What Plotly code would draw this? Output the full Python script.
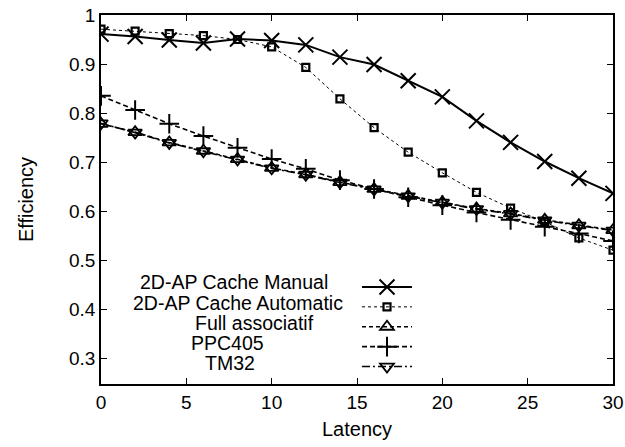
import plotly.graph_objects as go

latency = [0, 2, 4, 6, 8, 10, 12, 14, 16, 18, 20, 22, 24, 26, 28, 30]
manual = [0.961, 0.956, 0.949, 0.943, 0.951, 0.948, 0.939, 0.914, 0.899, 0.866, 0.833, 0.784, 0.740, 0.701, 0.667, 0.636]
automatic = [0.971, 0.967, 0.962, 0.958, 0.950, 0.935, 0.893, 0.829, 0.770, 0.720, 0.678, 0.638, 0.606, 0.578, 0.545, 0.520]
full_assoc = [0.778, 0.761, 0.740, 0.723, 0.706, 0.688, 0.675, 0.659, 0.645, 0.631, 0.618, 0.605, 0.595, 0.582, 0.571, 0.561]
ppc405 = [0.835, 0.806, 0.778, 0.753, 0.729, 0.706, 0.686, 0.663, 0.645, 0.628, 0.612, 0.597, 0.582, 0.568, 0.554, 0.539]
tm32 = [0.779, 0.760, 0.739, 0.722, 0.705, 0.687, 0.674, 0.658, 0.644, 0.630, 0.617, 0.604, 0.594, 0.581, 0.570, 0.560]
names = ["2D-AP Cache Manual", "2D-AP Cache Automatic", "Full associatif", "PPC405", "TM32"]
x_ticks = [0, 5, 10, 15, 20, 25, 30]
y_ticks = [0.3, 0.4, 0.5, 0.6, 0.7, 0.8, 0.9, 1.0]
y_tick_text = ["0.3", "0.4", "0.5", "0.6", "0.7", "0.8", "0.9", "1"]

series = [manual, automatic, full_assoc, ppc405, tm32]
styles = [
    dict(dash="solid", width=2.0, symbol="x-thin-open", size=15, mlw=2.0),
    dict(dash="dot", width=1.0, symbol="square-open", size=7, mlw=2.2),
    dict(dash="4px,3px", width=1.6, symbol="triangle-up-open", size=12, mlw=1.8),
    dict(dash="5px,3px", width=1.6, symbol="cross-thin-open", size=14, mlw=2.0),
    dict(dash="8px,3px,2px,3px", width=1.6, symbol="triangle-down-open", size=12, mlw=1.8),
]

fig = go.Figure()
for ys, st in zip(series, styles):
    fig.add_trace(go.Scatter(
        x=latency, y=ys, mode="lines+markers", name="",
        line=dict(color="black", width=st["width"], dash=st["dash"]),
        marker=dict(symbol=st["symbol"], size=st["size"], color="black",
                    line=dict(color="black", width=st["mlw"])),
    ))

font_family = "Liberation Sans, Arial, sans-serif"
W, H = 625, 447
ml, mr, mt, mb = 101, 12, 15, 63
pw = W - ml - mr
ph = H - mt - mb

# legend label placement (pixels): left edge and vertical centre of each label
label_left_px = [137.5, 131, 192.5, 189, 202.5]
label_mid_px = [282, 302.5, 322.5, 342.5, 362.5]
for name, lx, ry in zip(names, label_left_px, label_mid_px):
    fig.add_annotation(
        text=name, xref="paper", yref="paper",
        x=(lx - ml) / pw, y=(H - mb - ry) / ph,
        xanchor="left", yanchor="middle", showarrow=False,
        font=dict(family=font_family, size=19.5, color="black"),
    )

axis_common = dict(
    showgrid=False, zeroline=False, showline=True, linecolor="black", linewidth=1.5,
    mirror="allticks", ticks="inside", ticklen=6, tickwidth=1, tickcolor="black",
    tickfont=dict(family=font_family, size=19, color="black"), automargin=False,
)

fig.update_layout(
    width=W, height=H,
    margin=dict(l=ml, r=mr, t=mt, b=mb, autoexpand=False),
    plot_bgcolor="white", paper_bgcolor="white",
    font=dict(family=font_family, size=19, color="black"),
    xaxis=dict(range=[0, 30], tickvals=x_ticks, title=dict(text="Latency", standoff=10,
               font=dict(family=font_family, size=20)), **axis_common),
    yaxis=dict(range=[0.247, 1.0], tickvals=y_ticks, ticktext=y_tick_text,
               title=dict(text="Efficiency", standoff=30, font=dict(family=font_family, size=20)),
               **axis_common),
    showlegend=True,
    legend=dict(
        x=(357 - ml) / pw, y=(H - mb - 272) / ph, xanchor="left", yanchor="top",
        bgcolor="rgba(0,0,0,0)", borderwidth=0, itemwidth=50,
        font=dict(family=font_family, size=13), tracegroupgap=0,
    ),
)

fig.write_html("out.html")
